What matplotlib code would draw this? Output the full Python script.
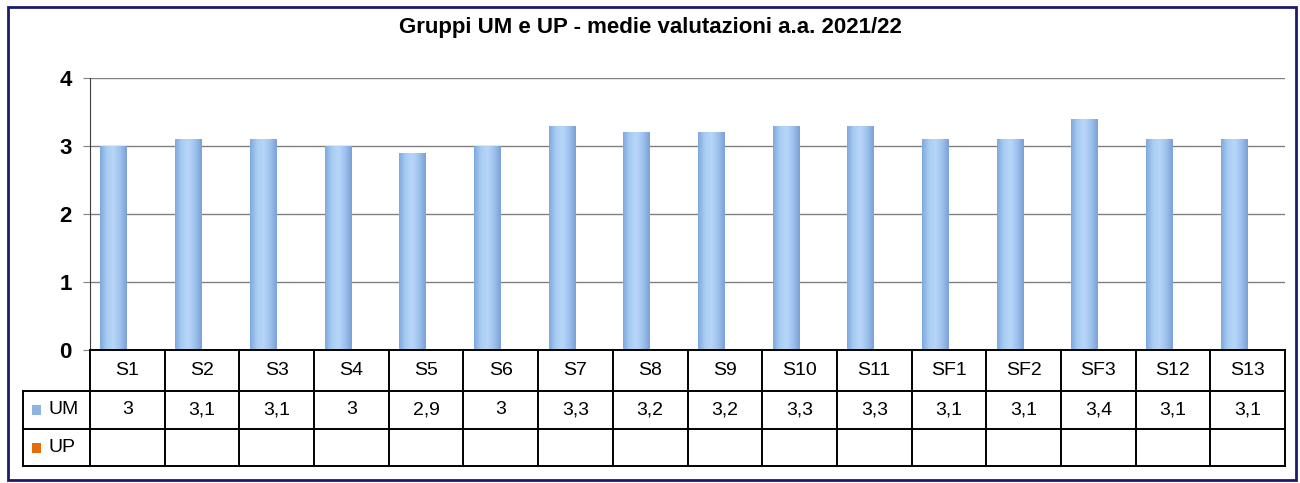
import matplotlib
matplotlib.use("Agg")
import matplotlib.pyplot as plt
import numpy as np
from matplotlib.transforms import blended_transform_factory
from matplotlib.patches import Rectangle

categories = ["S1", "S2", "S3", "S4", "S5", "S6", "S7", "S8", "S9", "S10", "S11",
              "SF1", "SF2", "SF3", "S12", "S13"]
um_values = [3, 3.1, 3.1, 3, 2.9, 3, 3.3, 3.2, 3.2, 3.3, 3.3, 3.1, 3.1, 3.4, 3.1, 3.1]
up_values = [None] * len(categories)
series_names = ["UM", "UP"]
title = "Gruppi UM e UP - medie valutazioni a.a. 2021/22"
yticks = [0, 1, 2, 3, 4]

plt.rcParams['font.family'] = ['Liberation Sans', 'DejaVu Sans']

W, H = 1300, 483
fig = plt.figure(figsize=(W / 100, H / 100), dpi=100)
fig.patch.set_facecolor("white")

# outer border
fig.patches.append(Rectangle((8 / W, 1 - 480 / H), (1296 - 8) / W, (480 - 7) / H,
                             transform=fig.transFigure, fill=False,
                             edgecolor="#1c1c6a", linewidth=2))

left, right, top, bottom = 90, 1285, 78, 350
ax = fig.add_axes([left / W, 1 - bottom / H, (right - left) / W, (bottom - top) / H])
n = len(categories)
x = np.arange(n)

bar_w = 0.36
# cylinder-like gradient bars
cols = np.array([[0.50, 0.66, 0.86], [0.66, 0.80, 0.95], [0.72, 0.84, 0.97],
                 [0.62, 0.76, 0.93], [0.48, 0.63, 0.84]])
grad = np.linspace(0, 1, 64)
def interp(t):
    pos = np.linspace(0, 1, len(cols))
    return np.array([np.interp(t, pos, cols[:, c]) for c in range(3)]).T
img = interp(grad)[None, :, :]
for xi, v in zip(x, um_values):
    x0 = xi - bar_w
    bar = ax.bar(xi - bar_w / 2, v, width=bar_w, color="#8db4e2", edgecolor="none", zorder=3)[0]
    im = ax.imshow(img, extent=(x0, xi, 0, v), aspect="auto", zorder=3.5, interpolation="bilinear")
    im.set_clip_path(bar)
ax.set_xlim(-0.5, n - 0.5)
ax.set_ylim(0, 4)

for yv in yticks[1:]:
    ax.axhline(yv, color="#808080", linewidth=1, zorder=1)
for s in ["top", "right", "bottom"]:
    ax.spines[s].set_visible(False)
ax.spines["left"].set_color("#404040")
ax.set_yticks(yticks)
ax.set_yticklabels([str(t) for t in yticks], fontsize=16, fontweight="bold")
ax.tick_params(axis="y", length=5, color="#808080", pad=8)
ax.set_xticks([])

fig.text(0.5, 1 - 28 / H, title, ha="center", va="center", fontsize=16, fontweight="bold")

# data table
tr = blended_transform_factory(ax.transData, ax.transAxes)
ph = bottom - top
def ya(py):
    return (bottom - py) / ph
rows = [350, 391, 429, 466]
leg_left = -0.5 - (left - 23) * (n / (right - left))
lk = dict(color="black", linewidth=1.4, transform=tr, clip_on=False, zorder=5)
ax.plot([-0.5, n - 0.5], [ya(rows[0])] * 2, **lk)
for r in rows[1:]:
    ax.plot([leg_left, n - 0.5], [ya(r)] * 2, **lk)
for i in range(n + 1):
    ax.plot([i - 0.5, i - 0.5], [ya(rows[0]), ya(rows[3])], **lk)
ax.plot([leg_left, leg_left], [ya(rows[1]), ya(rows[3])], **lk)

fs = 14
for i, c in enumerate(categories):
    ax.text(i, ya((rows[0] + rows[1]) / 2), c, ha="center", va="center", fontsize=fs,
            transform=tr, clip_on=False)
for i, v in enumerate(um_values):
    ax.text(i, ya((rows[1] + rows[2]) / 2), f"{v:g}".replace(".", ","), ha="center",
            va="center", fontsize=fs, transform=tr, clip_on=False)
    if up_values[i] is not None:
        ax.text(i, ya((rows[2] + rows[3]) / 2), f"{up_values[i]:g}".replace(".", ","),
                ha="center", va="center", fontsize=fs, transform=tr, clip_on=False)

marker_colors = ["#8db4e2", "#e46c0a"]
for k, name in enumerate(series_names):
    yc = (rows[1 + k] + rows[2 + k]) / 2
    fig.patches.append(Rectangle((32 / W, 1 - (yc + 5) / H), 9 / W, 10 / H,
                                 transform=fig.transFigure, facecolor=marker_colors[k],
                                 edgecolor="none"))
    fig.text(49 / W, 1 - yc / H, name, ha="left", va="center", fontsize=fs)

fig.savefig("out.png", dpi=100)
